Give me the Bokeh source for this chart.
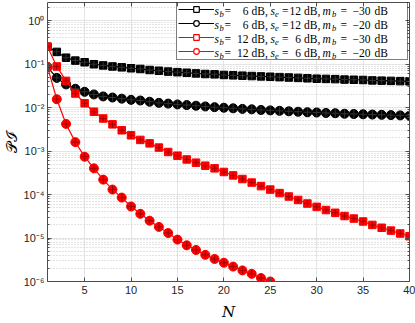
import math
from bokeh.plotting import figure
from bokeh.models import (Range1d, FixedTicker, CustomJSTickFormatter, LinearAxis, LogAxis,
                          Legend, LegendItem, Label, BoxAnnotation, Title)
from bokeh.embed import file_html
from bokeh.resources import INLINE

# ---------------- data ----------------
N_all = list(range(1, 41))
N_short = list(range(1, 26))

p_sb6_se12_mb30 = [0.25, 0.19, 0.14, 0.12, 0.11, 0.099, 0.093, 0.088, 0.084, 0.080,
                   0.077, 0.073, 0.070, 0.067, 0.065, 0.063, 0.061, 0.059, 0.058, 0.056,
                   0.055, 0.054, 0.053, 0.052, 0.051, 0.050, 0.049, 0.048, 0.047, 0.046,
                   0.0455, 0.045, 0.044, 0.0435, 0.043, 0.042, 0.0415, 0.041, 0.0405, 0.040]
p_sb6_se12_mb20 = [0.085, 0.048, 0.034, 0.027, 0.023, 0.020, 0.018, 0.017, 0.016, 0.015,
                   0.0145, 0.0136, 0.0128, 0.0123, 0.0118, 0.0114, 0.0110, 0.0106, 0.0102, 0.0099,
                   0.0096, 0.0093, 0.0091, 0.0088, 0.0086, 0.0084, 0.0082, 0.0080, 0.0078, 0.0077,
                   0.0075, 0.0074, 0.0072, 0.0071, 0.0070, 0.0069, 0.0068, 0.0067, 0.0066, 0.0065]
p_sb12_se6_mb30 = [0.25, 0.088, 0.041, 0.021, 0.0125, 0.0080, 0.0056, 0.0041, 0.0030, 0.0023,
                   0.0018, 0.0015, 0.0012, 0.00095, 0.00078, 0.00064, 0.00054, 0.00046, 0.00040, 0.00033,
                   0.000275, 0.000227, 0.000188, 0.000156, 0.000130, 0.000108, 0.000090, 0.000075, 0.000062, 0.000052,
                   0.000044, 0.000038, 0.000032, 0.000028, 0.000024, 0.000020, 0.0000172, 0.0000148, 0.0000127, 0.000011]
p_sb12_se6_mb20 = [0.085, 0.0155, 0.0042, 0.0016, 0.00074, 0.00040, 0.00022, 0.00013, 0.000085, 0.000053,
                   0.000036, 0.000025, 0.000018, 0.000013, 0.0000092, 0.0000068, 0.0000053, 0.0000041, 0.0000033, 0.0000027,
                   0.0000022, 0.0000018, 0.0000015, 0.0000012, 0.0000010]

legend_sb = ["6", "6", "12", "12"]
legend_se = ["12", "12", "6", "6"]
legend_mb = ["\u221230", "\u221220", "\u221230", "\u221220"]

x_ticks = [5, 10, 15, 20, 25, 30, 35, 40]
y_exponents = [-6, -5, -4, -3, -2, -1, 0]
x_title = "N"
y_title = "\U0001D4AB\u2110"

# ---------------- figure ----------------
FL, FB = 44, 289  # intended frame left / bottom in canvas pixels
AX = "#4d4d4d"
NAN = float("nan")
X0, X1 = 1, 40

p = figure(width=415, height=323, x_range=Range1d(X0, X1), y_range=Range1d(1e-6, 2.6),
           y_axis_type="log", output_backend="svg", toolbar_location=None,
           min_border_left=FL, min_border_right=6, min_border_top=2, min_border_bottom=34,
           background_fill_color="white", border_fill_color="white")
p.outline_line_color = None

y_major = [10.0 ** e for e in y_exponents]
y_minor = [k * 10.0 ** e for e in y_exponents for k in range(2, 10)]
xt = FixedTicker(ticks=x_ticks, minor_ticks=[])
yt = FixedTicker(ticks=y_major, minor_ticks=y_minor)

sup_fmt = CustomJSTickFormatter(code="""
const m = {'0':'\u2070','1':'\u00b9','2':'\u00b2','3':'\u00b3','4':'\u2074','5':'\u2075',
           '6':'\u2076','7':'\u2077','8':'\u2078','9':'\u2079','-':'\u207b'};
const e = Math.round(Math.log10(tick)).toString();
let s = '';
for (const c of e) { s += m[c]; }
return '10' + s;
""")
blank_fmt = CustomJSTickFormatter(code="return '';")


def style_axis(ax):
    ax.axis_line_color = AX
    ax.axis_line_width = 1
    ax.major_tick_line_color = AX
    ax.major_tick_in = 4
    ax.major_tick_out = 0
    ax.minor_tick_line_color = AX
    ax.minor_tick_in = 2
    ax.minor_tick_out = 0
    ax.major_label_text_font = "Liberation Sans"
    ax.major_label_text_font_size = "11px"
    ax.major_label_text_color = "#262626"


xa = p.xaxis[0]
xa.ticker = xt
style_axis(xa)
xa.major_label_standoff = 4

ya = p.yaxis[0]
ya.ticker = yt
ya.formatter = sup_fmt
style_axis(ya)
ya.major_label_standoff = 3

# x title: a second bottom axis that carries one centred label, no line or ticks
xlab = LinearAxis(ticker=FixedTicker(ticks=[(X0 + X1) / 2], minor_ticks=[]),
                  formatter=CustomJSTickFormatter(args=dict(t=x_title), code="return t;"),
                  axis_line_color=None, major_tick_line_color=None, minor_tick_line_color=None,
                  major_label_standoff=0, major_label_text_font="DejaVu Serif",
                  major_label_text_font_style="italic", major_label_text_font_size="15px",
                  major_label_text_color="black")
p.add_layout(xlab, "below")

# y title
p.add_layout(Title(text=y_title, align="center", text_font="DejaVu Serif",
                   text_font_style="normal", text_font_size="15px", text_color="black",
                   standoff=0, offset=0), "left")

top = LinearAxis(ticker=xt, formatter=blank_fmt)
style_axis(top)
top.major_label_text_font_size = "1px"
top.major_label_standoff = 0
p.add_layout(top, "above")
right = LogAxis(ticker=yt, formatter=blank_fmt)
style_axis(right)
right.major_label_text_font_size = "1px"
right.major_label_standoff = 0
p.add_layout(right, "right")

p.xgrid.ticker = xt
p.ygrid.ticker = yt
p.xgrid.grid_line_color = "#e4e4e4"
p.ygrid.grid_line_color = "#e4e4e4"
p.ygrid.minor_grid_line_color = "#c8c8c8"
p.ygrid.minor_grid_line_dash = "1 2"
p.ygrid.minor_grid_line_width = 1

# white legend background under everything (covers the grid only)
p.add_layout(BoxAnnotation(left=173 - FL, right=403 - FL, top=FB - 10, bottom=FB - 68,
                           left_units="screen", right_units="screen", top_units="screen",
                           bottom_units="screen", fill_color="white", fill_alpha=1,
                           line_color=None, level="underlay"))

# ---------------- series ----------------
series = [
    (N_all, p_sb6_se12_mb30, "black", "square", 7.5),
    (N_all, p_sb6_se12_mb20, "black", "circle", 9),
    (N_all, p_sb12_se6_mb30, "red", "square", 7.5),
    (N_short, p_sb12_se6_mb20, "red", "circle", 9),
]
items = []
for xs, ys, col, mk, sz in series:
    p.line(xs, ys, line_color=col, line_width=1.2)
    p.scatter(xs, ys, marker=mk, size=sz, fill_color=col, line_color=col)
    cross_col = "#a00000" if col == "red" else "#333333"
    p.scatter(xs, ys, marker="cross", size=sz - 1, line_color=cross_col, line_width=1)
    # legend sample glyphs (open markers); a single NaN row so nothing is drawn in the plot
    lr = p.line([NAN], [NAN], line_color=col, line_width=1.2)
    sr = p.scatter([NAN], [NAN], marker=mk, size=sz - 1, fill_color="white", line_color=col,
                   line_width=1.2)
    items.append(LegendItem(label=" ", renderers=[lr, sr]))

leg = Legend(items=items, location=(173 - FL, FB - 68), padding=1, spacing=0, margin=0,
             glyph_width=36, glyph_height=14, label_width=192, label_height=14, label_standoff=0,
             border_line_color="black", border_line_width=1, background_fill_alpha=0,
             label_text_font_size="10px")
p.add_layout(leg, "center")


def txt(t, px, py, size=11.5, style="normal", align="left", font="Liberation Serif"):
    p.add_layout(Label(x=px - FL, y=FB - py, x_units="screen", y_units="screen", text=t,
                       text_font=font, text_font_size=f"{size}px", text_font_style=style,
                       text_align=align, text_baseline="middle", text_color="black"))


for i in range(4):
    yc = 18 + 14 * i
    ys = yc + 3.5
    txt("s", 211, yc, style="italic")
    txt("b", 216, ys, size=8.5, style="italic")
    txt("=", 221, yc)
    txt(legend_sb[i], 245, yc, align="right")
    txt("dB,", 248, yc)
    txt("s", 267, yc, style="italic")
    txt("e", 271.5, ys, size=8.5, style="italic")
    txt("=", 278.5, yc)
    txt(legend_se[i], 297.5, yc, align="right")
    txt("dB,", 300.5, yc)
    txt("m", 319, yc, style="italic")
    txt("b", 328.5, ys, size=8.5, style="italic")
    txt("=", 337, yc)
    txt(legend_mb[i], 349, yc)
    txt("dB", 371, yc)

open("out.html", "w").write(file_html(p, INLINE))
